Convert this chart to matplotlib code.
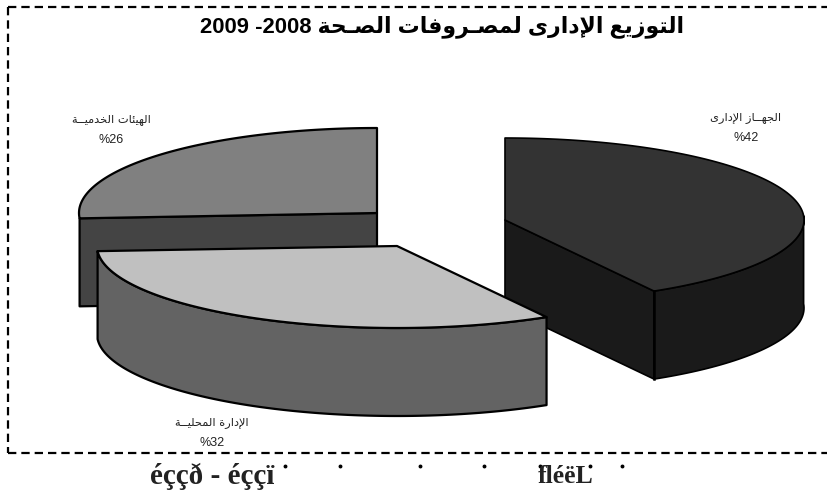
import numpy as np
import matplotlib
matplotlib.use("Agg")
import matplotlib.pyplot as plt
from matplotlib.patches import Polygon

title = "التوزيع الإدارى لمصـروفات الصـحة 2008- 2009"
labels = ["الجهــاز الإدارى", "الإدارة المحليــة", "الهيئات الخدميــة"]
values = [42, 32, 26]
value_labels = ["%42", "%32", "%26"]
footer_left = "éççð - éççï"
footer_right = "fléëL"

top_colors = ["#333333", "#c0c0c0", "#808080"]
side_colors = ["#1a1a1a", "#636363", "#444444"]
centers = [(505, 220), (397, 246), (377, 213)]
radii = [(299, 82), (300, 82), (298, 85)]
line_widths = [1.2, 1.6, 1.6]
depth = 88

# matplotlib does not shape arabic, so pick the presentation forms by hand
four_forms = {"ت": 0xFE95, "ي": 0xFEF1, "ع": 0xFEC9, "ل": 0xFEDD, "م": 0xFEE1, "ص": 0xFEB9,
              "ف": 0xFED1, "ح": 0xFEA1, "ج": 0xFE9D, "ه": 0xFEE9, "ئ": 0xFE89, "خ": 0xFEA5}
two_forms = {"ا": 0xFE8D, "إ": 0xFE87, "ة": 0xFE93, "و": 0xFEED, "ز": 0xFEAF, "د": 0xFEA9,
             "ر": 0xFEAD, "ى": 0xFEEF}


def shape_word(word):
    word = word.replace("لإ", "\uFEF9")
    out = []
    for i, c in enumerate(word):
        prev_joins = i > 0 and (word[i - 1] in four_forms or word[i - 1] == "\u0640")
        next_joins = i < len(word) - 1
        if c == "\uFEF9":
            out.append(chr(0xFEFA) if prev_joins else c)
        elif c == "\u0640":
            out.append(c)
        elif c in two_forms:
            out.append(chr(two_forms[c] + (1 if prev_joins else 0)))
        else:
            form = {(False, False): 0, (True, False): 1, (False, True): 2, (True, True): 3}[(prev_joins, next_joins)]
            out.append(chr(four_forms[c] + form))
    return "".join(reversed(out))


def visual(text):
    words = []
    for w in text.split():
        if w[0] in four_forms or w[0] in two_forms:
            words.append(shape_word(w))
        elif w.endswith("-"):
            words.append("-" + w[:-1])
        else:
            words.append(w)
    return " ".join(reversed(words))


def arc(i, a0, a1):
    # angles run clockwise from 12 o'clock
    t = np.radians(np.linspace(a0, a1, 120))
    return centers[i][0] + radii[i][0] * np.sin(t), centers[i][1] - radii[i][1] * np.cos(t)


fig = plt.figure(figsize=(8.27, 4.9), dpi=100)
ax = fig.add_axes([0, 0, 1, 1])
ax.set_xlim(0, 827)
ax.set_ylim(490, 0)
ax.axis("off")

stops = np.cumsum(values) * 3.6
stops[0] -= 1.1  # first cut sits a bit early in the source
starts = np.r_[0, stops[:-1]]

# back slices first, the front one goes over them
for i in [2, 0, 1]:
    c = centers[i]
    x, y = arc(i, starts[i], stops[i])
    edge = dict(edgecolor="black", linewidth=line_widths[i], joinstyle="round")
    if i == 0:
        ax.add_patch(Polygon([c, (x[-1], y[-1]), (x[-1], y[-1] + depth), (c[0], c[1] + depth)],
                             facecolor=side_colors[i], **edge))
        vis = y > c[1] - 5
        ax.add_patch(Polygon(np.r_[np.c_[x[vis], y[vis]], np.c_[x[vis], y[vis] + depth][::-1]],
                             facecolor=side_colors[i], **edge))
        ax.plot([x[-1], x[-1]], [y[-1], y[-1] + depth], color="black", lw=1.8)
    elif i == 1:
        ax.add_patch(Polygon(np.r_[np.c_[x, y], np.c_[x, y + depth][::-1]], facecolor=side_colors[i], **edge))
    else:
        ax.add_patch(Polygon([(x[0], y[0]), c, (c[0], c[1] + depth), (x[0], y[0] + depth)],
                             facecolor=side_colors[i], **edge))
    ax.add_patch(Polygon(np.r_[[c], np.c_[x, y]], facecolor=top_colors[i], **edge))

# dashed frame, open on the right where it runs off the picture
frame = dict(color="black", lw=1.6, dashes=(3.75, 2.25), dash_capstyle="butt")
ax.plot([8, 827], [7, 7], **frame)
ax.plot([8, 8], [7, 453], **frame)
ax.plot([8, 827], [453, 453], **frame)

ax.text(442, 27, visual(title), fontsize=15.8, fontweight="bold", family=["Liberation Sans", "DejaVu Sans"],
        ha="center", va="center")

label_pos = [(746, 118), (212, 423), (111, 120)]
for lab, val, (lx, ly) in zip(labels, value_labels, label_pos):
    ax.text(lx, ly, visual(lab), fontsize=8.2, ha="center", va="center", color="#222222")
    ax.text(lx, ly + 20, val, fontsize=9, family="Liberation Sans", ha="center", va="center", color="#222222")

ax.text(212, 476, footer_left, fontsize=21, family="Liberation Serif", fontweight="bold",
        ha="center", va="center", color="#222222")
ax.text(566, 476, footer_right, fontsize=18.5, family="Liberation Serif", fontweight="bold",
        ha="center", va="center", color="#222222")
ax.plot([285, 340, 420, 484, 540, 590, 622], [466] * 7, ls="none", marker="o", ms=1.8, color="black")

fig.savefig("out.png", dpi=100)
